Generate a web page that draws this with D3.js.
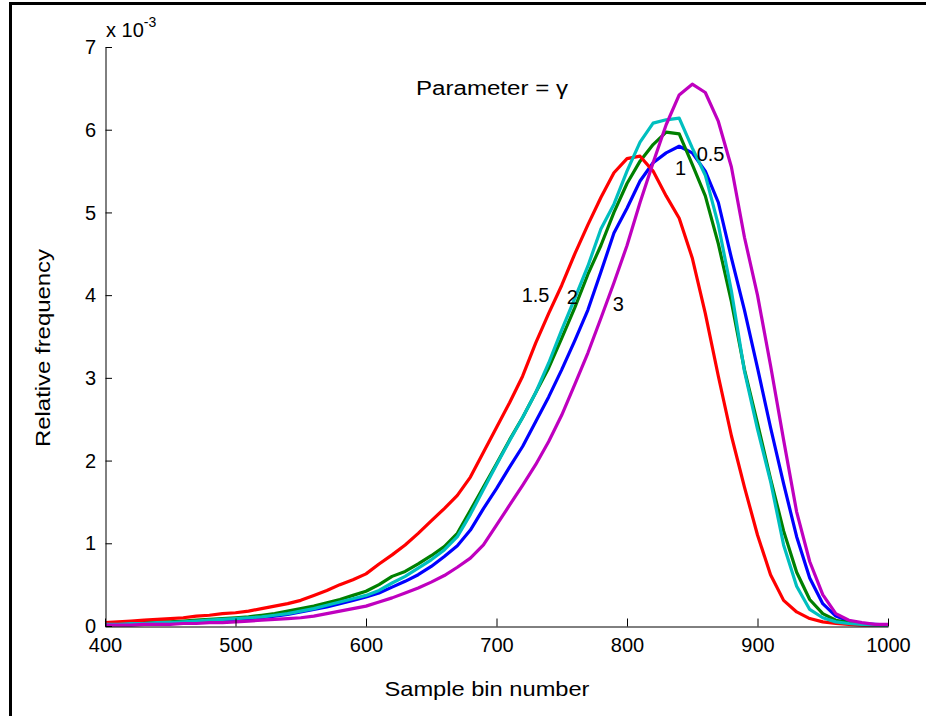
<!DOCTYPE html>
<html>
<head>
<meta charset="utf-8">
<script src="https://cdn.jsdelivr.net/npm/d3@7/dist/d3.min.js"></script>
<style>
  html, body { margin: 0; padding: 0; background: #ffffff; }
  svg { display: block; }
  text { font-family: "Liberation Sans", Arial, Helvetica, sans-serif; fill: #000; }
</style>
</head>
<body>
<script>
// ---- data (relative frequency, in units of 10^-3) ----
const bins = [400,410,420,430,440,450,460,470,480,490,500,510,520,530,540,550,560,570,580,590,
              600,610,620,630,640,650,660,670,680,690,700,710,720,730,740,750,760,770,780,790,
              800,810,820,830,840,850,860,870,880,890,900,910,920,930,940,950,960,970,980,990,1000];

const gamma05 = [0.02,0.02,0.03,0.03,0.04,0.04,0.05,0.06,0.06,0.07,0.08,0.09,0.10,0.12,0.14,0.17,0.20,0.23,0.27,0.31,
                 0.35,0.40,0.47,0.54,0.62,0.72,0.84,0.97,1.16,1.42,1.66,1.92,2.17,2.47,2.77,3.10,3.45,3.82,4.28,4.75,
                 5.05,5.38,5.60,5.72,5.80,5.72,5.50,5.12,4.45,3.82,3.12,2.40,1.72,1.08,0.58,0.27,0.12,0.06,0.03,0.02,0.01];

const gamma1  = [0.02,0.03,0.03,0.04,0.05,0.05,0.06,0.07,0.08,0.09,0.10,0.11,0.13,0.15,0.18,0.21,0.24,0.28,0.32,0.37,
                 0.42,0.50,0.60,0.66,0.75,0.85,0.96,1.12,1.40,1.68,1.96,2.25,2.52,2.82,3.12,3.48,3.85,4.25,4.60,5.00,
                 5.35,5.62,5.82,5.97,5.95,5.58,5.20,4.62,3.92,3.10,2.45,1.78,1.15,0.65,0.32,0.15,0.07,0.04,0.02,0.01,0.01];

const gamma15 = [0.04,0.05,0.06,0.07,0.08,0.09,0.10,0.12,0.13,0.15,0.16,0.18,0.21,0.24,0.27,0.31,0.37,0.43,0.50,0.56,
                 0.63,0.75,0.86,0.98,1.12,1.27,1.42,1.58,1.80,2.10,2.40,2.70,3.02,3.42,3.78,4.12,4.50,4.85,5.18,5.48,
                 5.65,5.68,5.50,5.20,4.93,4.45,3.78,3.02,2.30,1.68,1.10,0.62,0.31,0.17,0.09,0.05,0.03,0.02,0.01,0.01,0.01];

const gamma2  = [0.02,0.02,0.03,0.03,0.04,0.04,0.05,0.06,0.07,0.08,0.09,0.10,0.11,0.13,0.15,0.18,0.21,0.25,0.29,0.33,
                 0.37,0.43,0.52,0.60,0.70,0.80,0.92,1.08,1.35,1.65,1.95,2.24,2.52,2.82,3.18,3.58,3.96,4.35,4.80,5.10,
                 5.50,5.85,6.08,6.12,6.14,5.78,5.45,4.85,4.05,3.08,2.38,1.75,0.98,0.48,0.20,0.10,0.05,0.03,0.02,0.01,0.01];

const gamma3  = [0.01,0.01,0.01,0.02,0.02,0.02,0.03,0.03,0.04,0.04,0.05,0.06,0.07,0.08,0.09,0.10,0.12,0.15,0.18,0.21,
                 0.24,0.29,0.34,0.40,0.46,0.53,0.61,0.71,0.82,0.98,1.22,1.46,1.70,1.95,2.23,2.55,2.92,3.30,3.72,4.15,
                 4.60,5.12,5.60,6.06,6.42,6.55,6.45,6.10,5.55,4.70,4.00,3.15,2.25,1.38,0.78,0.38,0.15,0.07,0.04,0.02,0.02];

const seriesNames  = ["0.5", "1", "1.5", "2", "3"];
const seriesColors = ["#0000ff", "#008000", "#ff0000", "#00bfbf", "#bf00bf"];
const seriesValues = [gamma05, gamma1, gamma15, gamma2, gamma3];

const xTicks = [400, 500, 600, 700, 800, 900, 1000];
const yTicks = [0, 1, 2, 3, 4, 5, 6, 7];

// curve labels: [text, bin position, value position]
const curveLabels = [
  ["1.5", 719.3, 3.917],
  ["2",   753.8, 3.893],
  ["3",   789,   3.812],
  ["1",   836.8, 5.453],
  ["0.5", 853.4, 5.626]
];

// ---- drawing ----
const W = 926, H = 716;
const svg = d3.select("body").append("svg").attr("width", W).attr("height", H);
svg.append("rect").attr("width", W).attr("height", H).attr("fill", "#fff");

// figure frame (top and left visible)
svg.append("path").attr("d", "M10.5,716 V3.5 H926")
   .attr("fill", "none").attr("stroke", "#000").attr("stroke-width", 3);

const x = d3.scaleLinear().domain([400, 1000]).range([105, 888]);
const y = d3.scaleLinear().domain([0, 7]).range([626, 47]);

// curves
const line = d3.line().x((d, i) => x(bins[i])).y(d => y(d));
seriesValues.forEach((vals, k) => {
  svg.append("path")
    .datum(vals)
    .attr("d", line)
    .attr("fill", "none")
    .attr("stroke", seriesColors[k])
    .attr("stroke-width", 3.2)
    .attr("stroke-linejoin", "round");
});

// axes
const xAxis = d3.axisBottom(x).tickValues(xTicks).tickSizeInner(-8).tickSizeOuter(0).tickPadding(0)
                .tickFormat(d3.format("d"));
const gx = svg.append("g").attr("transform", "translate(0,626.5)").call(xAxis);
gx.select(".domain").attr("stroke", "#000").attr("stroke-width", 1);
gx.selectAll(".tick line").attr("stroke", "#000");
gx.selectAll(".tick text").attr("y", 25.5).attr("dy", null)
  .style("font-size", "20px").style("font-family", "'Liberation Sans', Arial, sans-serif");

const yAxis = d3.axisLeft(y).tickValues(yTicks).tickSizeInner(-6.5).tickSizeOuter(0).tickPadding(9.5)
                .tickFormat(d3.format("d"));
const gy = svg.append("g").attr("transform", "translate(105.5,0)").call(yAxis);
gy.select(".domain").attr("stroke", "#000").attr("stroke-width", 1);
gy.selectAll(".tick line").attr("stroke", "#000");
gy.selectAll(".tick text").attr("dy", "0.33em")
  .style("font-size", "20px").style("font-family", "'Liberation Sans', Arial, sans-serif");

// exponent
const expo = svg.append("text").attr("x", 106).attr("y", 37).style("font-size", "20px");
expo.append("tspan").text("x 10");
expo.append("tspan").attr("dy", -10).style("font-size", "14px").text("-3");

// axis labels
svg.append("text").attr("x", 487).attr("y", 696).attr("text-anchor", "middle")
   .style("font-size", "21px").attr("textLength", 205).attr("lengthAdjust", "spacingAndGlyphs")
   .text("Sample bin number");
svg.append("text").attr("transform", "translate(50,348) rotate(-90)").attr("text-anchor", "middle")
   .style("font-size", "21px").attr("textLength", 198).attr("lengthAdjust", "spacingAndGlyphs")
   .text("Relative frequency");

// annotation
svg.append("text").attr("x", 416).attr("y", 95).style("font-size", "20px")
   .attr("textLength", 152).attr("lengthAdjust", "spacingAndGlyphs")
   .text("Parameter = \u03B3");

// curve labels
curveLabels.forEach(([t, bx, vy]) => {
  svg.append("text").attr("x", x(bx)).attr("y", y(vy)).style("font-size", "20px").text(t);
});
</script>
</body>
</html>
